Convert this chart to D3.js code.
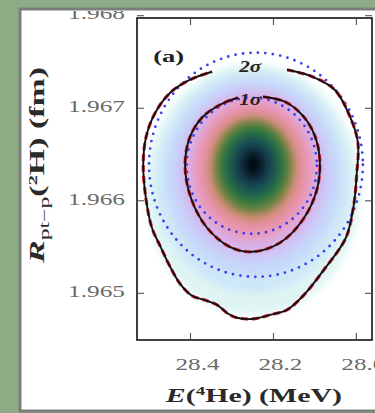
<!DOCTYPE html>
<html>
<head>
<meta charset="utf-8">
<script src="https://cdn.jsdelivr.net/npm/d3@7"></script>
<style>
  body { margin: 0; background: #8dab84; }
  svg { display: block; }
</style>
</head>
<body>
<div id="container"></div>
<script>
(function(){
  "use strict";
  // axes
  var xTicks = [28.4, 28.2, 28.0];
  var xTickLabels = ["28.4", "28.2", "28.0"];
  var yTicks = [1.965, 1.966, 1.967, 1.968];
  var yTickLabels = ["1.965", "1.966", "1.967", "1.968"];
  var xDomain = [28.528, 27.961];
  var yDomain = [1.96449, 1.96797];

  // density shading, outer level first (level = position on the colour map)
  var densityLevel = [0.96, 0.92, 0.88, 0.83, 0.77, 0.70, 0.62, 0.53, 0.44, 0.36, 0.27, 0.18, 0.10, 0.03];
  var densityE = [28.248, 28.248, 28.248, 28.248, 28.248, 28.248, 28.248, 28.248, 28.248, 28.248, 28.248, 28.248, 28.248, 28.248];
  var densityR = [1.966114, 1.966200, 1.966254, 1.966286, 1.966308, 1.966330, 1.966341, 1.966351, 1.966362, 1.966373, 1.966373, 1.966384, 1.966384, 1.966384];
  var densityHalfE = [0.260, 0.236, 0.212, 0.188, 0.166, 0.147, 0.130, 0.114, 0.099, 0.083, 0.065, 0.046, 0.029, 0.014];
  var densityHalfR = [0.001362, 0.001211, 0.001070, 0.000951, 0.000854, 0.000765, 0.000680, 0.000600, 0.000525, 0.000440, 0.000345, 0.000249, 0.000162, 0.000086];

  // 1 sigma and 2 sigma contours (open at the label)
  var sigma1E = [28.224, 28.171, 28.128, 28.099, 28.087, 28.094, 28.128, 28.183, 28.251, 28.304, 28.359, 28.398, 28.412, 28.400, 28.369, 28.323, 28.284];
  var sigma1R = [1.967119, 1.967065, 1.966914, 1.966697, 1.966438, 1.966114, 1.965789, 1.965541, 1.965443, 1.965497, 1.965703, 1.966027, 1.966384, 1.966686, 1.966903, 1.967043, 1.967108];
  var sigma2E = [28.166, 28.104, 28.051, 28.014, 27.995, 27.998, 28.005, 28.024, 28.077, 28.125, 28.166, 28.207, 28.246, 28.287, 28.308, 28.335, 28.366, 28.395, 28.424, 28.448, 28.470, 28.492, 28.506, 28.513, 28.506, 28.484, 28.448, 28.400, 28.347];
  var sigma2R = [1.967411, 1.967335, 1.967195, 1.966903, 1.966622, 1.966276, 1.965951, 1.965595, 1.965249, 1.964978, 1.964816, 1.964762, 1.964719, 1.964730, 1.964773, 1.964870, 1.964924, 1.964968, 1.965097, 1.965281, 1.965486, 1.965703, 1.966005, 1.966384, 1.966686, 1.966946, 1.967162, 1.967303, 1.967389];

  // blue dotted error ellipses
  var ellipseE = [28.241, 28.251];
  var ellipseR = [1.966384, 1.966373];
  var ellipseHalfE = [0.258, 0.157];
  var ellipseHalfR = [0.001211, 0.000735];

  // in-plot labels
  var noteText = ["(a)", "2σ", "1σ"];
  var noteE = [28.489, 28.255, 28.255];
  var noteR = [1.967497, 1.967389, 1.967032];

  var margin = {top: 18, right: 3, bottom: 73, left: 137};
  var W = 375, H = 413;
  var width = W - margin.left - margin.right;
  var height = H - margin.top - margin.bottom;

  var svg = d3.select("#container").append("svg")
      .attr("width", W)
      .attr("height", H);

  var defs = svg.append("defs");
  defs.append("clipPath").attr("id", "panelClip")
    .append("rect").attr("x", 21).attr("y", 11).attr("width", 360).attr("height", 399);
  defs.append("clipPath").attr("id", "plotClip")
    .append("rect").attr("width", width).attr("height", height);
  defs.append("filter").attr("id", "soft")
      .attr("x", "-20%").attr("y", "-20%").attr("width", "140%").attr("height", "140%")
    .append("feGaussianBlur").attr("stdDeviation", 3.5);

  svg.append("rect").attr("width", W).attr("height", H).attr("fill", "#8dab84");
  svg.append("rect")
      .attr("x", 20).attr("y", 9).attr("width", 370).attr("height", 402)
      .attr("fill", "#ffffff")
      .attr("stroke", "#7b7f7a").attr("stroke-width", 3);

  var panel = svg.append("g").attr("clip-path", "url(#panelClip)");
  var chart = panel.append("g")
      .attr("transform", "translate(" + margin.left + "," + margin.top + ")");

  var xScale = d3.scaleLinear().domain(xDomain).range([0, width]);
  var yScale = d3.scaleLinear().domain(yDomain).range([height, 0]);
  var colour = d3.scaleLinear()
      .domain([0, 0.10, 0.18, 0.27, 0.36, 0.44, 0.53, 0.62, 0.70, 0.77, 0.83, 0.88, 0.92, 0.96, 1])
      .range(["#000000", "#0a1a28", "#133a50", "#1d5a50", "#2f7840", "#6e8440", "#d58f78", "#e690a8",
              "#e99cbc", "#d8aee6", "#cdc6f6", "#c6d8fa", "#cfe8f8", "#dff5f4", "#ffffff"])
      .interpolate(d3.interpolateRgb);

  // density
  var densityData = densityLevel.map(function(t, i) {
    return {t: t, e: densityE[i], r: densityR[i], he: densityHalfE[i], hr: densityHalfR[i]};
  });
  chart.append("g")
      .attr("clip-path", "url(#plotClip)")
    .append("g")
      .attr("filter", "url(#soft)")
    .selectAll("ellipse")
    .data(densityData)
    .enter().append("ellipse")
      .attr("cx", function(d) { return xScale(d.e); })
      .attr("cy", function(d) { return yScale(d.r); })
      .attr("rx", function(d) { return Math.abs(xScale(d.e + d.he) - xScale(d.e)); })
      .attr("ry", function(d) { return Math.abs(yScale(d.r + d.hr) - yScale(d.r)); })
      .attr("fill", function(d) { return colour(d.t); });

  // dotted ellipses
  chart.selectAll(".err")
    .data(ellipseE.map(function(e, i) {
      return {e: e, r: ellipseR[i], he: ellipseHalfE[i], hr: ellipseHalfR[i]};
    }))
    .enter().append("ellipse")
      .attr("class", "err")
      .attr("cx", function(d) { return xScale(d.e); })
      .attr("cy", function(d) { return yScale(d.r); })
      .attr("rx", function(d) { return Math.abs(xScale(d.e + d.he) - xScale(d.e)); })
      .attr("ry", function(d) { return Math.abs(yScale(d.r + d.hr) - yScale(d.r)); })
      .attr("fill", "none")
      .attr("stroke", "#3a40ee")
      .attr("stroke-width", 2.8)
      .attr("stroke-linecap", "round")
      .attr("stroke-dasharray", "0 7.5");

  // contours
  var line = d3.line()
      .x(function(d) { return xScale(d[0]); })
      .y(function(d) { return yScale(d[1]); })
      .curve(d3.curveCatmullRom.alpha(0.5));
  var contours = [d3.zip(sigma1E, sigma1R), d3.zip(sigma2E, sigma2R)];
  contours.forEach(function(pts) {
    chart.append("path")
        .attr("d", line(pts))
        .attr("fill", "none")
        .attr("stroke", "#e3263a")
        .attr("stroke-width", 3.2)
        .attr("stroke-dasharray", "7 4");
    chart.append("path")
        .attr("d", line(pts))
        .attr("fill", "none")
        .attr("stroke", "#111111")
        .attr("stroke-width", 1.9);
  });

  // labels inside
  chart.selectAll(".note")
    .data(noteText)
    .enter().append("text")
      .attr("class", "note")
      .attr("x", function(d, i) { return xScale(noteE[i]); })
      .attr("y", function(d, i) { return yScale(noteR[i]); })
      .attr("text-anchor", function(d, i) { return i === 0 ? "start" : "middle"; })
      .attr("font-family", "Liberation Serif")
      .attr("font-weight", "bold")
      .attr("font-style", function(d, i) { return i === 0 ? "normal" : "italic"; })
      .attr("font-size", 16)
      .attr("fill", "#222")
      .attr("textLength", function(d, i) { return i === 0 ? 31 : 22; })
      .attr("lengthAdjust", "spacingAndGlyphs")
      .text(function(d) { return d; });

  // frame and ticks
  chart.append("rect")
      .attr("width", width).attr("height", height)
      .attr("fill", "none").attr("stroke", "#111").attr("stroke-width", 1.6);

  var xAxis = d3.axisBottom(xScale).tickValues(xTicks)
      .tickSize(-7).tickPadding(18)
      .tickFormat(function(d, i) { return xTickLabels[i]; });
  var yAxis = d3.axisLeft(yScale).tickValues(yTicks)
      .tickSize(-7).tickPadding(12)
      .tickFormat(function(d, i) { return yTickLabels[i]; });

  var gx = chart.append("g").attr("transform", "translate(0," + height + ")").call(xAxis);
  var gy = chart.append("g").call(yAxis);
  chart.append("g").call(d3.axisTop(xScale).tickValues(xTicks).tickSize(-7).tickFormat(""));
  chart.append("g").attr("transform", "translate(" + width + ",0)")
      .call(d3.axisRight(yScale).tickValues(yTicks).tickSize(-7).tickFormat(""));

  chart.selectAll(".domain").remove();
  chart.selectAll(".tick line").attr("stroke", "#444").attr("stroke-width", 1);
  gx.attr("font-family", "Liberation Serif");
  gy.attr("font-family", "Liberation Serif");
  gx.selectAll("text")
      .attr("font-size", 17).attr("fill", "#6a6a6a")
      .attr("dx", 7)
      .attr("textLength", 44).attr("lengthAdjust", "spacingAndGlyphs");
  gy.selectAll("text")
      .attr("font-size", 17).attr("fill", "#6a6a6a")
      .attr("dy", "0.22em")
      .attr("textLength", 57).attr("lengthAdjust", "spacingAndGlyphs");

  // axis titles
  var xt = panel.append("text")
      .attr("x", margin.left + xScale(28.246)).attr("y", 402)
      .attr("text-anchor", "middle")
      .attr("font-family", "Liberation Serif")
      .attr("font-weight", "bold").attr("font-size", 19).attr("fill", "#2a2a2a")
      .attr("textLength", 176).attr("lengthAdjust", "spacingAndGlyphs");
  xt.append("tspan").attr("font-style", "italic").text("E");
  xt.append("tspan").text("(");
  xt.append("tspan").attr("font-size", 12).attr("dy", -7).text("4");
  xt.append("tspan").attr("dy", 7).text("He) (MeV)");

  var yt = panel.append("text")
      .attr("transform", "translate(44,165) rotate(-90)")
      .attr("text-anchor", "middle")
      .attr("font-family", "Liberation Serif")
      .attr("font-weight", "bold").attr("font-size", 20).attr("fill", "#2a2a2a")
      .attr("textLength", 196).attr("lengthAdjust", "spacingAndGlyphs");
  yt.append("tspan").attr("font-style", "italic").text("R");
  yt.append("tspan").attr("font-size", 14).attr("font-weight", "normal").attr("dy", 5).text("pt−p");
  yt.append("tspan").attr("dy", -5).text("(");
  yt.append("tspan").attr("font-size", 12).attr("dy", -7).text("2");
  yt.append("tspan").attr("dy", 7).text("H) (fm)");
})();
</script>
</body>
</html>
